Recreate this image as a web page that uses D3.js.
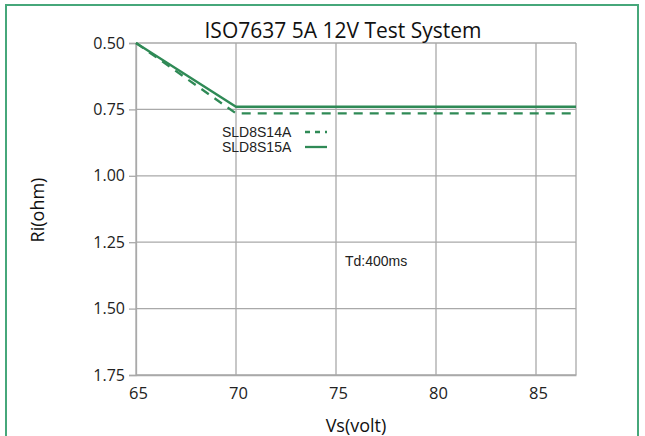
<!DOCTYPE html>
<html><head><meta charset="utf-8">
<script src="https://cdn.jsdelivr.net/npm/d3@7"></script>
<style>body{margin:0;background:#fff}svg{display:block}</style>
</head><body>
<svg id="c" width="645" height="436"></svg>
<script>
const title = "ISO7637 5A 12V Test System";
const xTicks = [65, 70, 75, 80, 85];
const yTicks = [0.50, 0.75, 1.00, 1.25, 1.50, 1.75];
const volts = [65, 70, 87];
const sld8s14a = [0.50, 0.765, 0.765];
const sld8s15a = [0.50, 0.74, 0.74];
const seriesNames = ["SLD8S14A", "SLD8S15A"];

const svg = d3.select("#c");
const lineColor = "#2f8a56";
const gridColor = "#a9a9a9";
const font = "Open Sans, Liberation Sans, sans-serif";
const font2 = "Liberation Sans, Arial, sans-serif";

// outer border
svg.append("rect").attr("x", 6).attr("y", 5).attr("width", 632).attr("height", 440)
  .attr("fill", "none").attr("stroke", "#46a77a").attr("stroke-width", 2);

const x = d3.scaleLinear().domain([65, 87]).range([136, 576]);
const y = d3.scaleLinear().domain([0.5, 1.75]).range([43, 375]);

// gridlines
svg.append("g").selectAll("line").data(xTicks.concat([87])).join("line")
  .attr("x1", d => x(d)).attr("x2", d => x(d)).attr("y1", y(0.5)).attr("y2", y(1.75))
  .attr("stroke", gridColor).attr("stroke-width", 1.3);
svg.append("g").selectAll("line").data(yTicks).join("line")
  .attr("x1", x(65)).attr("x2", x(87)).attr("y1", d => y(d)).attr("y2", d => y(d))
  .attr("stroke", gridColor).attr("stroke-width", 1.3);

// axes
const yAxis = d3.axisLeft(y).tickValues(yTicks).tickFormat(d3.format(".2f")).tickSize(7).tickPadding(4);
const gy = svg.append("g").attr("transform", `translate(${x(65)},0)`).call(yAxis);
gy.select(".domain").attr("stroke", gridColor).attr("stroke-width", 1.3);
gy.selectAll(".tick line").attr("stroke", gridColor).attr("stroke-width", 1.3);
gy.selectAll("text").attr("font-family", font).attr("font-size", 16).attr("fill", "#222");

const xAxis = d3.axisBottom(x).tickValues(xTicks).tickFormat(d3.format("d")).tickSize(0).tickPadding(12);
const gx = svg.append("g").attr("transform", `translate(0,${y(1.75)})`).call(xAxis);
gx.select(".domain").attr("stroke", gridColor).attr("stroke-width", 1.3);
gx.selectAll("text").attr("font-family", font).attr("font-size", 16.5).attr("fill", "#222")
  .attr("dx", 2);

// lines
const line = d3.line().x((d, i) => x(volts[i])).y(d => y(d));
svg.append("path").datum(sld8s14a).attr("d", line).attr("fill", "none")
  .attr("stroke", lineColor).attr("stroke-width", 2.3).attr("stroke-dasharray", "9,7");
svg.append("path").datum(sld8s15a).attr("d", line).attr("fill", "none")
  .attr("stroke", lineColor).attr("stroke-width", 2.3);

// title
svg.append("text").attr("x", 343).attr("y", 38).attr("text-anchor", "middle")
  .attr("font-family", font).attr("font-size", 21).attr("fill", "#111").text(title);

// axis titles
svg.append("text").attr("x", 356).attr("y", 432).attr("text-anchor", "middle")
  .attr("font-family", font).attr("font-size", 18).attr("fill", "#111").text("Vs(volt)");
svg.append("text").attr("transform", "translate(44,210) rotate(-90)").attr("text-anchor", "middle")
  .attr("font-family", font).attr("font-size", 18).attr("fill", "#111").text("Ri(ohm)");

// legend
const lg = svg.append("g");
seriesNames.forEach((n, i) => {
  const yy = 132 + i * 15;
  lg.append("text").attr("x", 222).attr("y", yy + 5).attr("font-family", font2)
    .attr("font-size", 14).attr("fill", "#222").text(n);
  lg.append("line").attr("x1", 305).attr("x2", 327).attr("y1", yy).attr("y2", yy)
    .attr("stroke", lineColor).attr("stroke-width", 2.3)
    .attr("stroke-dasharray", i === 0 ? "5,5" : null);
});

// annotation
svg.append("text").attr("x", 345).attr("y", 266).attr("font-family", font2)
  .attr("font-size", 14).attr("fill", "#222").text("Td:400ms");
</script>
</body></html>
